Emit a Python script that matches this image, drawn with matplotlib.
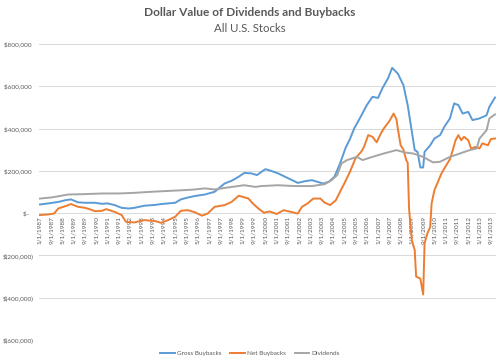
import matplotlib
matplotlib.use('Agg')
import matplotlib.pyplot as plt
import matplotlib.ticker as ticker

plt.rcParams['font.family'] = ['Lato', 'DejaVu Sans']

# values, in $ thousands, x = months since Jan 1987
gross_month = [0, 6, 13, 18, 22, 27, 32, 39, 44, 48, 53, 58, 63, 67, 74, 82, 86, 91, 96, 100,
               105, 110, 117, 124, 131, 136, 141, 145, 150, 154, 160, 164, 169, 174, 179, 183,
               188, 193, 197, 201, 205, 209, 213, 217, 220, 223, 227, 232, 236, 240, 243, 247,
               250, 254, 258, 261, 264, 266, 268, 270, 272, 273, 277, 280, 284, 287, 291, 294,
               297, 300, 304, 307, 312, 317, 319, 323]
gross_value = [41, 46, 53, 61, 65, 51, 49, 49, 44, 46, 38, 25, 22, 25, 35, 39, 43, 46, 49, 65,
               74, 81, 88, 101, 140, 153, 172, 190, 188, 180, 208, 200, 188, 172, 156, 143,
               151, 156, 148, 140, 148, 172, 235, 310, 350, 400, 448, 511, 550, 545, 590, 637,
               687, 660, 605, 511, 384, 298, 290, 216, 216, 290, 321, 353, 369, 408, 448, 519,
               511, 471, 479, 440, 448, 463, 503, 547]

net_month = [0, 6, 10, 13, 18, 22, 27, 32, 36, 39, 44, 47, 53, 58, 61, 67, 74, 82, 86, 91,
             96, 100, 105, 110, 115, 119, 124, 131, 136, 141, 144, 148, 151, 155, 159, 163,
             168, 173, 178, 183, 186, 190, 194, 199, 202, 206, 210, 213, 216, 220, 224, 228,
             230, 233, 236, 239, 242, 244, 248, 251, 253, 254, 256, 258, 260, 261, 262, 263,
             264, 266, 267, 270, 272, 273, 275, 277, 278, 280, 283, 285, 287, 291, 293, 295,
             297, 299, 301, 304, 306, 309, 312, 314, 318, 320, 323]
net_value = [-9, -6, -2, 22, 33, 43, 30, 25, 17, 9, 11, 19, 6, -9, -41, -44, -33, -38, -46, -33,
             -17, 11, 14, 4, -12, -2, 30, 38, 53, 82, 77, 69, 46, 22, 2, 8,
             -4, 14, 6, -2, 30, 46, 69, 69, 50, 38, 61, 101, 140, 195, 260, 290,
             313, 369, 361, 335, 377, 400, 435, 471, 445, 400, 321, 300, 250, 240, 20, -60,
             -130, -175, -300, -310, -385, -143, -96, -65, 46, 109, 156, 188, 211, 255, 298, 345,
             369, 345, 361, 345, 306, 313, 306, 330, 321, 350, 353]

div_month = [0, 8, 20, 32, 44, 56, 67, 79, 91, 103, 110, 117, 124, 134, 145, 153, 157, 169,
             181, 193, 202, 207, 211, 214, 218, 225, 229, 236, 244, 253, 259, 265, 272, 279,
             284, 291, 298, 305, 310, 312, 317, 319, 323]
div_value = [69, 74, 88, 90, 93, 93, 96, 101, 105, 109, 112, 117, 112, 122, 132, 124, 128, 132,
             128, 128, 137, 156, 180, 235, 251, 266, 251, 266, 282, 298, 287, 282, 266, 240,
             243, 266, 282, 298, 306, 353, 392, 448, 467]

tick_month = list(range(0, 321, 8))
tick_label = ['%d/1/%d' % (m % 12 + 1, 1987 + m // 12) for m in tick_month]

fig = plt.figure(figsize=(5, 3.63), dpi=100)
ax = fig.add_axes([0.078, 0.0634, 0.914, 0.8154])

# category labels sit next to the zero line, as in Excel
for s in ['top', 'right', 'left']:
    ax.spines[s].set_visible(False)
ax.spines['bottom'].set_position(('data', 0))
ax.spines['bottom'].set_color('none')

ax.plot(gross_month, [v * 1000 for v in gross_value], color='#5B9BD5', lw=1.4, label='Gross Buybacks')
ax.plot(net_month, [v * 1000 for v in net_value], color='#ED7D31', lw=1.4, label='Net Buybacks')
ax.plot(div_month, [v * 1000 for v in div_value], color='#A5A5A5', lw=1.4, label='Dividends')

ax.set_ylim(-600000, 800000)
ax.set_xlim(-0.7, 323.7)
ax.yaxis.set_major_locator(ticker.MultipleLocator(200000))


def money(v, pos):
    if v == 0:
        return '$-   '
    if v < 0:
        return '$(%s)' % format(int(-v), ',')
    return '$%s ' % format(int(v), ',')


ax.yaxis.set_major_formatter(ticker.FuncFormatter(money))
ax.set_xticks(tick_month)
ax.set_xticklabels(tick_label)
ax.grid(axis='y', color='#D9D9D9', lw=0.7)
ax.set_axisbelow(True)
ax.tick_params(length=0, labelsize=4.6, labelcolor='#595959')
ax.tick_params(axis='x', pad=2, labelrotation=90)
ax.tick_params(axis='y', pad=4)

fig.text(0.5, 0.965, 'Dollar Value of Dividends and Buybacks', ha='center', va='center',
         fontsize=8.6, fontweight='bold', color='#595959')
fig.text(0.5, 0.921, 'All U.S. Stocks', ha='center', va='center', fontsize=8.2, color='#595959')

fig.legend(loc='center', bbox_to_anchor=(0.5, 0.027), ncol=3, frameon=False, fontsize=4.6,
           handlelength=2.3, columnspacing=1.4, handletextpad=0.3, labelcolor='#595959')

fig.savefig('out.png', dpi=100)
